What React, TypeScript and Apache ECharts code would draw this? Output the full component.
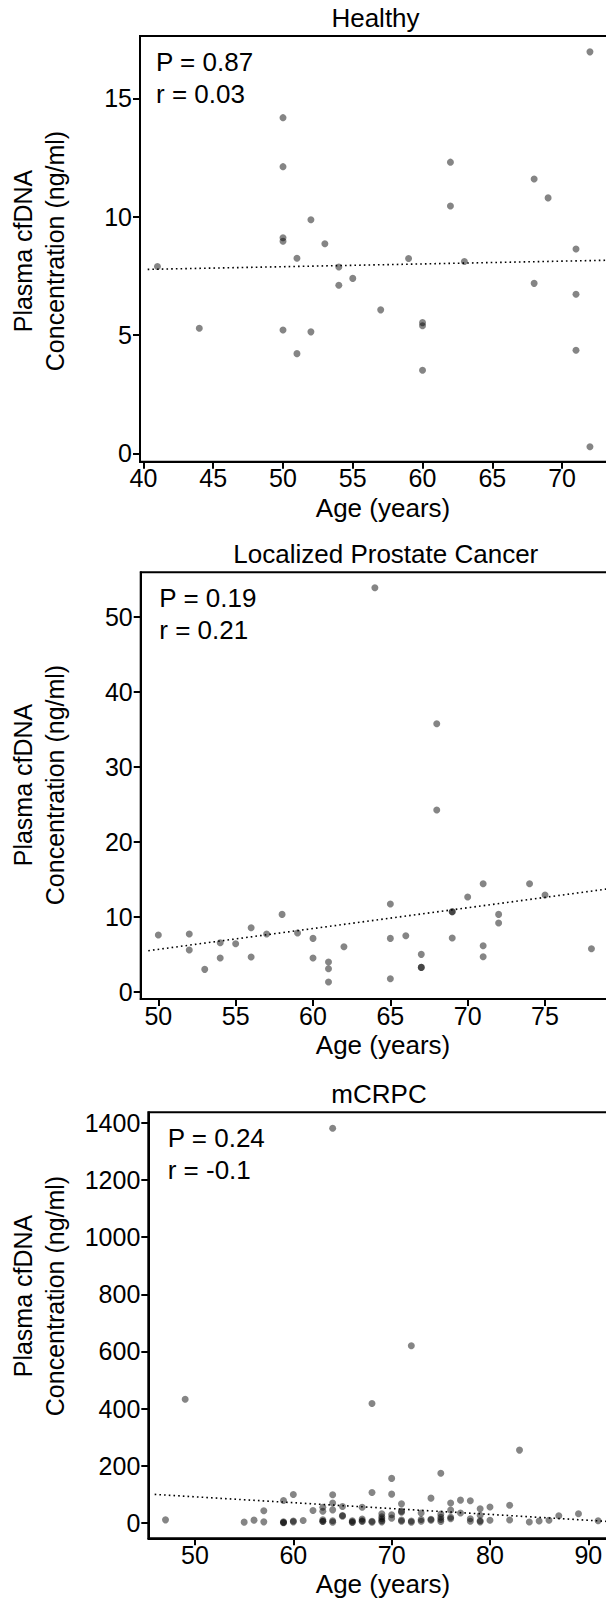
import React, { useEffect, useRef } from "react";
import * as echarts from "echarts";

const FONT = '"Liberation Sans", Arial, Helvetica, sans-serif';

// Healthy donors
const HEALTHY_AGE = [41, 44, 50, 50, 50, 50, 50, 51, 51, 52, 52, 53, 54, 54, 55, 57, 59, 60, 60, 60, 62, 62, 63, 68, 68, 69, 71, 71, 71, 72, 72];
const HEALTHY_CFDNA = [7.89, 5.28, 14.18, 12.11, 9.11, 8.96, 5.21, 8.24, 4.21, 9.87, 5.13, 8.85, 7.87, 7.1, 7.39, 6.06, 8.23, 5.52, 5.39, 3.51, 12.3, 10.45, 8.1, 11.59, 7.18, 10.79, 8.63, 6.72, 4.35, 16.96, 0.28];
const HEALTHY_FIT = [[40.3, 7.77], [73.6, 8.16]];
const HEALTHY_STATS = ["P = 0.87", "r = 0.03"];
const HEALTHY_X_TICKS = [40, 45, 50, 55, 60, 65, 70];
const HEALTHY_Y_TICKS = [0, 5, 10, 15];

// Localized prostate cancer
const LOCAL_AGE = [50, 52, 52, 53, 54, 54, 55, 56, 56, 57, 58, 59, 60, 60, 61, 61, 61, 62, 64, 65, 65, 65, 66, 67, 67, 67, 68, 68, 69, 69, 69, 70, 71, 71, 71, 72, 72, 74, 75, 78];
const LOCAL_CFDNA = [7.56, 7.69, 5.56, 2.98, 6.53, 4.49, 6.4, 8.53, 4.62, 7.69, 10.31, 7.82, 7.11, 4.49, 3.96, 3.07, 1.29, 6.0, 53.87, 11.69, 7.11, 1.73, 7.47, 4.98, 3.24, 3.24, 35.73, 24.22, 10.67, 10.67, 7.16, 12.62, 14.4, 6.13, 4.67, 10.31, 9.16, 14.4, 12.89, 5.73];
const LOCAL_FIT = [[49.35, 5.47], [79.4, 13.8]];
const LOCAL_STATS = ["P = 0.19", "r = 0.21"];
const LOCAL_X_TICKS = [50, 55, 60, 65, 70, 75];
const LOCAL_Y_TICKS = [0, 10, 20, 30, 40, 50];

// mCRPC
const MCRPC_AGE = [
  47, 49, 55, 56, 57, 57, 59, 59, 59, 59, 60, 60, 60, 61, 62, 63, 63, 63, 63, 63,
  64, 64, 64, 64, 64, 64, 65, 65, 65, 66, 66, 66, 67, 67, 67, 67, 68, 68, 68, 68,
  69, 69, 69, 69, 69, 70, 70, 70, 70, 71, 71, 71, 71, 71, 72, 72, 72, 73, 73, 73,
  74, 74, 74, 75, 75, 75, 75, 75, 76, 76, 76, 76, 77, 77, 78, 78, 78, 79, 79, 79,
  79, 80, 80, 82, 82, 83, 84, 85, 86, 87, 89, 91,
];
const MCRPC_CFDNA = [
  11, 433, 3, 10, 43, 4, 79, 4, 2, 1, 100, 7, 4, 9, 44, 55, 41, 11, 6, 5,
  1381, 99, 70, 46, 8, 3, 58, 26, 24, 8, 4, 2, 55, 14, 8, 5, 418, 107, 6, 3,
  32, 22, 15, 8, 4, 156, 101, 29, 17, 67, 41, 38, 10, 6, 620, 7, 3, 35, 12, 6,
  87, 13, 10, 174, 31, 20, 12, 5, 70, 45, 20, 15, 80, 35, 78, 15, 6, 50, 27, 8,
  4, 56, 9.5, 62, 10.5, 255, 3.5, 7, 9.5, 25.5, 32.5, 8,
];
const MCRPC_FIT = [[45.9, 100], [92.4, 4.6]];
const MCRPC_STATS = ["P = 0.24", "r = -0.1"];
const MCRPC_X_TICKS = [50, 60, 70, 80, 90];
const MCRPC_Y_TICKS = [0, 200, 400, 600, 800, 1000, 1200, 1400];

const TITLES = ["Healthy", "Localized Prostate Cancer", "mCRPC"];
const X_NAME = "Age (years)";
const Y_NAME = ["Plasma cfDNA", "Concentration (ng/ml)"];

type Panel = {
  title: string;
  titleX: number;
  age: number[];
  conc: number[];
  fit: number[][];
  stats: string[];
  xTicks: number[];
  yTicks: number[];
  xMin: number;
  xMax: number;
  yMin: number;
  yMax: number;
  left: number;
  top: number;
  width: number;
  height: number;
  statsDx: number;
  yNameMid: number;
};

// The frames run past the right edge of the page, so their right sides stay out of view.
const PANELS: Panel[] = [
  {
    title: TITLES[0], titleX: 375.5,
    age: HEALTHY_AGE, conc: HEALTHY_CFDNA, fit: HEALTHY_FIT, stats: HEALTHY_STATS,
    xTicks: HEALTHY_X_TICKS, yTicks: HEALTHY_Y_TICKS,
    xMin: 39.75, xMax: 73.58, yMin: -0.355, yMax: 17.63,
    left: 140, top: 36, width: 472, height: 425.7,
    statsDx: 16, yNameMid: 251,
  },
  {
    title: TITLES[1], titleX: 385.8,
    age: LOCAL_AGE, conc: LOCAL_CFDNA, fit: LOCAL_FIT, stats: LOCAL_STATS,
    xTicks: LOCAL_X_TICKS, yTicks: LOCAL_Y_TICKS,
    xMin: 48.86, xMax: 79.33, yMin: -0.973, yMax: 55.92,
    left: 140.7, top: 572.3, width: 471.3, height: 426.7,
    statsDx: 18.6, yNameMid: 785,
  },
  {
    title: TITLES[2], titleX: 379,
    age: MCRPC_AGE, conc: MCRPC_CFDNA, fit: MCRPC_FIT, stats: MCRPC_STATS,
    xTicks: MCRPC_X_TICKS, yTicks: MCRPC_Y_TICKS,
    xMin: 45.25, xMax: 92.41, yMin: -53.5, yMax: 1436.5,
    left: 148.3, top: 1112.3, width: 463.7, height: 426,
    statsDx: 19.4, yNameMid: 1296,
  },
];

function textEl(text: string, x: number, y: number, size: number, align: string, rotation = 0) {
  return {
    type: "text",
    x,
    y,
    rotation,
    style: {
      text,
      fill: "#000",
      fontSize: size,
      fontFamily: FONT,
      align,
      verticalAlign: "middle",
      textAlign: align,
      textVerticalAlign: "middle",
    },
  };
}

const plain = (v: number) => String(v);

function buildOption() {
  const grid: any[] = [];
  const xAxis: any[] = [];
  const yAxis: any[] = [];
  const series: any[] = [];
  const graphic: any[] = [];

  PANELS.forEach((p, i) => {
    grid.push({
      left: p.left,
      top: p.top,
      width: p.width,
      height: p.height,
      show: true,
      borderColor: "#000",
      borderWidth: 2,
      backgroundColor: "transparent",
    });
    xAxis.push({
      type: "value",
      gridIndex: i,
      min: p.xMin,
      max: p.xMax,
      axisLine: { show: true, onZero: false, lineStyle: { color: "#000", width: 2 } },
      axisTick: { show: true, length: 7, customValues: p.xTicks, lineStyle: { color: "#000", width: 2 } },
      axisLabel: { customValues: p.xTicks, formatter: plain, margin: 4, fontSize: 25, color: "#000", fontFamily: FONT },
      splitLine: { show: false },
    });
    yAxis.push({
      type: "value",
      gridIndex: i,
      min: p.yMin,
      max: p.yMax,
      axisLine: { show: true, onZero: false, lineStyle: { color: "#000", width: 2 } },
      axisTick: { show: true, length: 7, customValues: p.yTicks, lineStyle: { color: "#000", width: 2 } },
      axisLabel: { customValues: p.yTicks, formatter: plain, margin: 8, fontSize: 25, color: "#000", fontFamily: FONT },
      splitLine: { show: false },
    });
    series.push({
      type: "scatter",
      xAxisIndex: i,
      yAxisIndex: i,
      symbol: "circle",
      symbolSize: 7,
      itemStyle: { color: "rgba(0,0,0,0.6)" },
      data: p.age.map((a, k) => [a, p.conc[k]]),
      z: 2,
    });
    series.push({
      type: "line",
      xAxisIndex: i,
      yAxisIndex: i,
      symbol: "none",
      showSymbol: false,
      clip: true,
      lineStyle: { color: "#000", width: 1.6, type: [1.6, 3.1] },
      data: p.fit,
      z: 3,
    });

    const bottom = p.top + p.height;
    graphic.push(textEl(p.title, p.titleX, p.top - 18.5, 26, "center"));
    graphic.push(textEl(p.stats[0], p.left + p.statsDx, p.top + 26, 26, "left"));
    graphic.push(textEl(p.stats[1], p.left + p.statsDx, p.top + 58, 26, "left"));
    graphic.push(textEl(X_NAME, 383, bottom + 46, 26, "center"));
    graphic.push(textEl(Y_NAME[0], 23, p.yNameMid, 25, "center", Math.PI / 2));
    graphic.push(textEl(Y_NAME[1], 55, p.yNameMid, 25, "center", Math.PI / 2));
  });

  return {
    animation: false,
    backgroundColor: "#fff",
    grid,
    xAxis,
    yAxis,
    series,
    graphic: { elements: graphic },
  };
}

export default function App() {
  const ref = useRef<HTMLDivElement>(null);

  useEffect(() => {
    if (!ref.current) return;
    const chart = echarts.init(ref.current, null, { renderer: "svg" });
    chart.setOption(buildOption());
    return () => {
      chart.dispose();
    };
  }, []);

  return (
    <div style={{ position: "absolute", left: 0, top: 0, width: 606, height: 1604, overflow: "hidden", background: "#fff" }}>
      <div ref={ref} style={{ width: 640, height: 1604 }} />
    </div>
  );
}
